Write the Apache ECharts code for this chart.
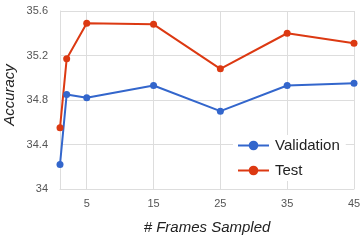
<!DOCTYPE html>
<html><head><meta charset="utf-8">
<script src="https://cdn.jsdelivr.net/npm/echarts@6/dist/echarts.min.js"></script>
<style>html,body{margin:0;padding:0;background:#fff}#c{width:362px;height:240px}</style>
</head><body><div id="c"></div>
<script>
const frames = [1, 2, 5, 15, 25, 35, 45];
const validation = [34.22, 34.85, 34.82, 34.93, 34.70, 34.93, 34.95];
const test = [34.55, 35.17, 35.49, 35.48, 35.08, 35.40, 35.31];
const xTicks = [5, 15, 25, 35, 45];
const seriesNames = ['Validation', 'Test'];
const colors = ['#3366cc', '#dc3912'];

const chart = echarts.init(document.getElementById('c'), null, {renderer: 'canvas'});
const font = 'Liberation Sans, Arial, sans-serif';
chart.setOption({
  animation: false,
  color: colors,
  grid: {left: 60, right: 8, top: 11, bottom: 51, outerBoundsMode: 'none', containLabel: false},
  legend: {
    orient: 'vertical', left: 233, top: 135, itemGap: 10,
    itemWidth: 31, itemHeight: 12, backgroundColor: '#fff', padding: [3, 6, 3, 4],
    textStyle: {fontFamily: font, fontSize: 15, color: '#222', padding: [0, 0, 0, 1]},
    data: seriesNames
  },
  xAxis: {
    type: 'value', min: 1, max: 45,
    name: '# Frames Sampled', nameLocation: 'middle', nameGap: 31, nameMoveOverlap: false,
    nameTextStyle: {fontFamily: font, fontSize: 15, fontStyle: 'italic', color: '#222'},
    axisLine: {show: true, lineStyle: {color: '#ddd'}},
    axisTick: {show: false, customValues: xTicks},
    axisLabel: {customValues: xTicks, fontFamily: font, fontSize: 11, color: '#555', margin: 9},
    splitLine: {show: true, lineStyle: {color: '#ddd'}}
  },
  yAxis: {
    type: 'value', min: 34, max: 35.6, interval: 0.4,
    name: 'Accuracy', nameLocation: 'middle', nameGap: 43, nameMoveOverlap: false,
    nameTextStyle: {fontFamily: font, fontSize: 15, fontStyle: 'italic', color: '#222', padding: [0, 0, 0, 10]},
    axisLine: {show: true, lineStyle: {color: '#ddd'}},
    axisTick: {show: false},
    axisLabel: {fontFamily: font, fontSize: 11, color: '#555', margin: 12},
    splitLine: {show: true, lineStyle: {color: '#ddd'}}
  },
  series: [
    {name: seriesNames[0], type: 'line', data: frames.map((f, i) => [f, validation[i]]),
     symbol: 'circle', symbolSize: 7, lineStyle: {width: 2}},
    {name: seriesNames[1], type: 'line', data: frames.map((f, i) => [f, test[i]]),
     symbol: 'circle', symbolSize: 7, lineStyle: {width: 2}}
  ]
});
</script></body></html>
